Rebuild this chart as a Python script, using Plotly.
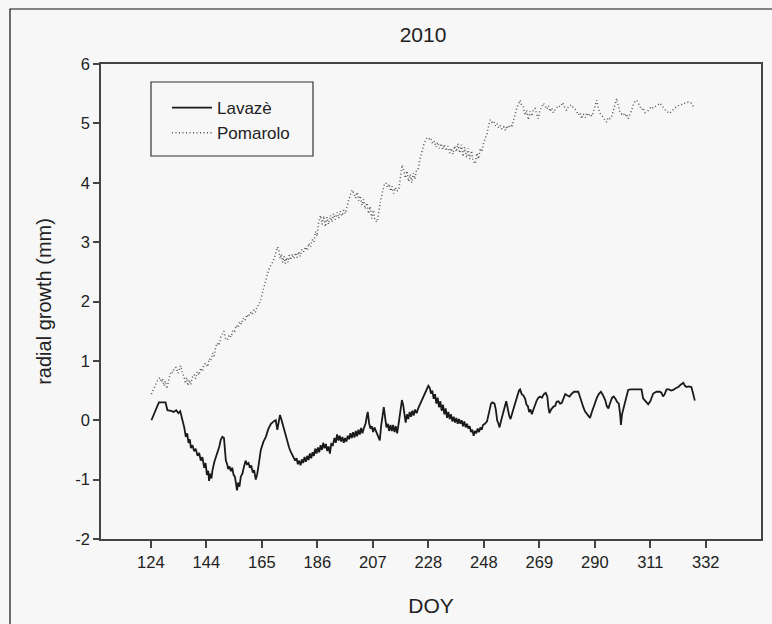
import plotly.graph_objects as go

# ---------------- data ----------------
x_tick_vals = [124, 144.8, 165.6, 186.4, 207.2, 228, 248.8, 269.6, 290.4, 311.2, 332]
x_tick_text = ["124", "144", "165", "186", "207", "228", "248", "269", "290", "311", "332"]
y_tick_vals = [-2, -1, 0, 1, 2, 3, 4, 5, 6]
y_tick_text = ["-2", "-1", "0", "1", "2", "3", "4", "5", "6"]

lavaze_doy = [
    124.2, 125.5, 127.0, 129.5, 130.2, 131.5, 132.5, 133.5, 134.3, 135.0, 135.9, 136.5, 137.1, 137.6,
    138.1, 138.6, 139.0, 139.6, 140.2, 140.8, 141.5, 142.1, 142.7, 143.3, 144.0, 144.5, 145.0, 145.5,
    145.8, 146.3, 146.7, 147.1, 147.8, 148.4, 148.9, 149.6, 150.2, 150.8, 151.4, 151.8, 152.1, 152.6,
    153.0, 153.5, 154.0, 154.5, 155.0, 155.5, 155.9, 156.3, 156.7, 157.2, 157.7, 158.3, 158.8, 159.5,
    160.0, 160.6, 161.1, 161.6, 162.2, 162.7, 163.3, 163.8, 164.3, 165.2, 166.2, 167.1, 168.0, 169.0,
    170.0, 170.8, 171.4, 172.0, 172.4, 173.0, 173.6, 174.3, 175.1, 175.8, 176.4, 177.0, 177.6, 178.1,
    178.6, 179.1, 179.6, 180.1, 180.6, 181.1, 181.6, 182.1, 182.6, 183.1, 183.6, 184.1, 184.6, 185.1,
    185.6, 186.1, 186.6, 187.1, 187.6, 188.1, 188.6, 189.1, 189.6, 190.1, 190.6, 191.1, 191.6, 192.2,
    192.8, 193.3, 193.8, 194.3, 194.8, 195.3, 195.8, 196.3, 196.8, 197.3, 197.8, 198.3, 198.8, 199.3,
    199.8, 200.3, 200.8, 201.3, 201.8, 202.3, 202.8, 203.3, 203.8, 204.5, 205.0, 205.3, 205.8, 206.3,
    206.8, 207.3, 207.8, 208.3, 208.8, 209.3, 209.8, 210.3, 210.8, 211.3, 211.8, 212.3, 212.8, 213.3,
    213.8, 214.3, 214.8, 215.3, 215.8, 216.3, 216.9, 217.5, 218.1, 218.6, 219.1, 219.5, 220.0, 220.5,
    221.0, 221.5, 222.0, 222.5, 223.0, 223.6, 224.2, 224.8, 225.6, 226.4, 227.2, 228.0, 228.5, 229.0,
    229.5, 230.0, 230.5, 231.0, 231.5, 232.0, 232.5, 233.0, 233.5, 234.0, 234.5, 235.0, 235.5, 236.0,
    236.5, 237.0, 237.5, 238.0, 238.5, 239.0, 239.5, 240.0, 240.5, 241.0, 241.5, 242.0, 242.5, 243.0,
    243.5, 244.0, 244.5, 245.0, 245.5, 246.0, 246.5, 247.0, 247.5, 248.0, 248.5, 249.2, 250.0, 250.8,
    251.5, 252.0, 252.8, 253.3, 253.8, 254.3, 254.7, 255.2, 255.9, 256.6, 257.2, 257.8, 258.3, 258.8,
    259.5, 260.1, 260.6, 261.3, 262.0, 262.4, 263.0, 263.6, 264.3, 264.8, 265.3, 265.8, 266.3, 266.8,
    267.4, 268.0, 268.7, 269.3, 269.9, 270.6, 271.3, 272.0, 272.6, 273.0, 273.4, 274.0, 274.9, 275.5,
    276.1, 276.8, 277.4, 278.0, 278.6, 279.3, 280.0, 280.9, 281.6, 282.6, 283.4, 284.2, 284.8, 285.5,
    286.1, 286.7, 287.3, 287.8, 288.6, 289.3, 290.0, 290.5, 291.2, 291.9, 292.7, 293.5, 294.3, 294.9,
    295.5, 296.2, 296.9, 297.5, 298.2, 298.7, 299.4, 299.9, 300.2, 300.6, 301.1, 301.8, 302.4, 302.9,
    303.8, 304.8, 305.8, 306.8, 307.9, 308.5, 309.2, 309.8, 310.4, 311.2, 312.3, 313.5, 314.8, 315.4,
    316.0, 316.6, 317.3, 318.2, 319.0, 319.8, 320.7, 321.7, 322.6, 323.6, 324.2, 324.8, 325.5, 326.6,
    327.2, 327.9,
]
lavaze_mm = [
    0.00, 0.15, 0.30, 0.30, 0.17, 0.16, 0.14, 0.17, 0.12, 0.15, 0.00, -0.12, -0.28, -0.22,
    -0.38, -0.32, -0.47, -0.42, -0.52, -0.48, -0.60, -0.55, -0.68, -0.62, -0.80, -0.72, -0.92, -0.85,
    -1.02, -0.90, -0.98, -0.84, -0.70, -0.62, -0.56, -0.45, -0.33, -0.28, -0.30, -0.50, -0.68, -0.74,
    -0.82, -0.78, -0.86, -0.80, -0.92, -0.95, -1.10, -1.18, -1.05, -1.12, -0.95, -0.90, -0.80, -0.68,
    -0.74, -0.72, -0.80, -0.76, -0.88, -0.84, -1.00, -0.92, -0.78, -0.50, -0.36, -0.28, -0.15, -0.06,
    -0.02, 0.00, -0.16, 0.00, 0.09, 0.00, -0.10, -0.25, -0.39, -0.46, -0.53, -0.58, -0.62, -0.68,
    -0.64, -0.74, -0.68, -0.76, -0.66, -0.72, -0.62, -0.70, -0.60, -0.67, -0.56, -0.64, -0.54, -0.60,
    -0.48, -0.56, -0.46, -0.54, -0.42, -0.50, -0.38, -0.47, -0.40, -0.52, -0.44, -0.56, -0.40, -0.42,
    -0.30, -0.38, -0.24, -0.34, -0.26, -0.36, -0.28, -0.38, -0.30, -0.36, -0.26, -0.32, -0.22, -0.30,
    -0.20, -0.29, -0.18, -0.27, -0.16, -0.24, -0.13, -0.22, -0.14, -0.05, 0.08, 0.14, -0.05, -0.14,
    -0.10, -0.20, -0.12, -0.18, -0.22, -0.30, -0.34, -0.10, 0.12, 0.22, 0.05, -0.12, -0.06, -0.18,
    -0.08, -0.18, -0.08, -0.20, -0.10, -0.22, -0.05, 0.20, 0.34, 0.25, 0.06, -0.04, 0.10, 0.02,
    0.14, 0.06, 0.16, 0.08, 0.18, 0.12, 0.20, 0.26, 0.35, 0.44, 0.52, 0.58, 0.55, 0.45,
    0.50, 0.36, 0.44, 0.28, 0.38, 0.22, 0.32, 0.16, 0.26, 0.10, 0.20, 0.04, 0.14, 0.02,
    0.10, -0.02, 0.06, -0.04, 0.04, -0.06, 0.02, -0.06, 0.00, -0.10, -0.02, -0.12, -0.06, -0.14,
    -0.10, -0.20, -0.16, -0.26, -0.18, -0.22, -0.14, -0.20, -0.12, -0.16, -0.08, -0.06, -0.02, 0.12,
    0.28, 0.30, 0.28, 0.18, 0.00, -0.06, -0.12, -0.02, 0.08, 0.22, 0.32, 0.18, 0.08, 0.02,
    0.14, 0.24, 0.30, 0.40, 0.50, 0.52, 0.44, 0.42, 0.36, 0.26, 0.24, 0.14, 0.18, 0.10,
    0.18, 0.26, 0.34, 0.38, 0.40, 0.38, 0.44, 0.46, 0.40, 0.22, 0.12, 0.18, 0.23, 0.24,
    0.31, 0.32, 0.28, 0.29, 0.36, 0.44, 0.42, 0.40, 0.44, 0.48, 0.48, 0.48, 0.40, 0.29,
    0.22, 0.15, 0.12, 0.08, 0.04, 0.14, 0.24, 0.29, 0.38, 0.44, 0.48, 0.42, 0.34, 0.24,
    0.20, 0.30, 0.38, 0.40, 0.36, 0.31, 0.28, 0.10, -0.08, 0.10, 0.20, 0.34, 0.46, 0.51,
    0.52, 0.52, 0.52, 0.52, 0.52, 0.37, 0.32, 0.30, 0.27, 0.32, 0.45, 0.48, 0.48, 0.46,
    0.40, 0.44, 0.52, 0.52, 0.50, 0.51, 0.54, 0.56, 0.60, 0.63, 0.58, 0.56, 0.57, 0.56,
    0.46, 0.33,
]

pomarolo_doy = [
    124.2, 125.0, 125.9, 126.6, 127.4, 127.9, 128.4, 128.9, 129.4, 130.0, 130.7, 131.5, 132.2, 132.8,
    133.4, 134.2, 134.7, 135.2, 135.8, 136.4, 136.9, 137.4, 137.9, 138.4, 138.9, 139.5, 140.2, 140.8,
    141.4, 142.0, 142.7, 143.3, 143.9, 144.6, 145.3, 145.9, 146.5, 147.1, 147.7, 148.3, 148.9, 149.5,
    150.2, 150.8, 151.4, 152.0, 152.7, 153.4, 154.1, 154.7, 155.4, 156.0, 156.7, 157.3, 157.9, 158.6,
    159.3, 160.0, 160.6, 161.3, 161.9, 162.6, 163.2, 163.9, 164.5, 165.2, 165.8, 166.5, 167.1, 167.7,
    168.3, 169.1, 169.9, 170.7, 171.4, 171.9, 172.4, 172.9, 173.4, 173.9, 174.4, 174.9, 175.4, 175.9,
    176.4, 177.0, 177.6, 178.2, 178.8, 179.4, 180.0, 180.6, 181.3, 182.0, 182.6, 183.2, 183.8, 184.5,
    185.1, 185.7, 186.3, 186.9, 187.6, 188.2, 188.8, 189.4, 190.0, 190.6, 191.3, 191.9, 192.5, 193.1,
    193.8, 194.4, 195.0, 195.7, 196.3, 196.9, 197.5, 198.1, 198.8, 199.5, 200.1, 200.7, 201.3, 201.9,
    202.5, 203.1, 203.7, 204.3, 205.0, 205.6, 206.2, 206.8, 207.4, 208.0, 208.8, 209.5, 210.2, 210.8,
    211.5, 212.1, 212.7, 213.3, 213.9, 214.4, 215.0, 215.6, 216.2, 216.9, 217.5, 218.2, 218.8, 219.4,
    220.0, 220.6, 221.2, 221.8, 222.4, 223.0, 223.6, 224.2, 224.9, 225.7, 226.4, 227.0, 227.6, 228.3,
    228.9, 229.6, 230.2, 230.9, 231.5, 232.1, 232.8, 233.4, 234.0, 234.7, 235.3, 236.0, 236.6, 237.2,
    237.9, 238.5, 239.1, 239.8, 240.4, 241.0, 241.6, 242.3, 242.9, 243.5, 244.2, 244.8, 245.6, 246.2,
    246.8, 247.5, 248.1, 248.7, 249.4, 250.0, 250.6, 251.2, 251.8, 252.5, 253.1, 253.7, 254.4, 255.0,
    255.6, 256.3, 256.9, 257.5, 258.1, 258.8, 259.4, 259.9, 260.5, 261.1, 261.7, 262.4, 263.0, 263.6,
    264.2, 264.8, 265.5, 266.1, 266.7, 267.4, 268.0, 268.6, 269.2, 269.8, 270.4, 271.1, 271.7, 272.4,
    273.0, 273.6, 274.2, 274.9, 275.5, 276.1, 276.8, 277.4, 278.0, 278.4, 279.0, 279.8, 280.5, 281.1,
    281.7, 282.4, 283.0, 283.6, 284.2, 284.9, 285.5, 286.1, 286.8, 287.4, 288.0, 288.7, 289.3, 289.9,
    290.5, 291.1, 291.7, 292.3, 292.9, 293.6, 294.2, 294.8, 295.4, 296.1, 296.7, 297.3, 297.9, 298.6,
    299.2, 299.8, 300.4, 301.0, 301.7, 302.3, 302.9, 303.5, 304.2, 304.8, 305.4, 306.1, 306.7, 307.4,
    308.0, 308.6, 309.2, 309.9, 310.5, 311.2, 311.8, 312.4, 313.0, 313.6, 314.3, 314.9, 315.5, 316.1,
    316.8, 317.4, 318.0, 318.5, 319.1, 319.8, 320.4, 321.2, 321.8, 322.4, 323.0, 323.5, 324.1, 324.8,
    325.4, 326.0, 326.6, 327.2, 327.7,
]
pomarolo_mm = [
    0.44, 0.52, 0.62, 0.68, 0.72, 0.64, 0.70, 0.58, 0.66, 0.53, 0.68, 0.82, 0.80, 0.88,
    0.89, 0.79, 0.86, 0.92, 0.80, 0.74, 0.62, 0.72, 0.58, 0.68, 0.60, 0.72, 0.77, 0.70,
    0.82, 0.76, 0.88, 0.82, 0.94, 0.96, 0.90, 1.04, 1.00, 1.13, 1.08, 1.24, 1.30, 1.26,
    1.40, 1.44, 1.50, 1.38, 1.35, 1.44, 1.40, 1.52, 1.50, 1.60, 1.56, 1.66, 1.62, 1.72,
    1.68, 1.78, 1.74, 1.82, 1.78, 1.86, 1.82, 1.92, 1.94, 2.04, 2.13, 2.26, 2.36, 2.46,
    2.55, 2.62, 2.69, 2.80, 2.92, 2.88, 2.72, 2.80, 2.66, 2.76, 2.64, 2.74, 2.66, 2.78,
    2.70, 2.80, 2.72, 2.82, 2.74, 2.84, 2.76, 2.88, 2.84, 2.92, 2.86, 2.98, 2.92, 3.04,
    3.00, 3.18, 3.10, 3.34, 3.45, 3.30, 3.44, 3.26, 3.42, 3.30, 3.45, 3.34, 3.48, 3.38,
    3.50, 3.40, 3.52, 3.44, 3.54, 3.48, 3.62, 3.70, 3.80, 3.88, 3.82, 3.74, 3.84, 3.70,
    3.78, 3.62, 3.72, 3.56, 3.66, 3.48, 3.60, 3.40, 3.54, 3.36, 3.34, 3.55, 3.72, 3.84,
    3.96, 4.00, 3.92, 3.98, 3.86, 3.94, 3.82, 3.92, 3.86, 3.88, 4.10, 4.30, 4.20, 4.08,
    4.20, 4.02, 4.14, 4.00, 4.16, 4.06, 4.22, 4.24, 4.40, 4.55, 4.66, 4.72, 4.76, 4.74,
    4.76, 4.66, 4.70, 4.60, 4.68, 4.58, 4.66, 4.56, 4.64, 4.54, 4.62, 4.50, 4.58, 4.48,
    4.62, 4.52, 4.66, 4.50, 4.64, 4.44, 4.60, 4.42, 4.58, 4.40, 4.54, 4.36, 4.32, 4.50,
    4.40, 4.58, 4.52, 4.67, 4.74, 4.83, 4.96, 5.06, 5.02, 5.04, 4.96, 5.00, 4.92, 4.96,
    4.90, 4.94, 4.88, 4.96, 4.92, 4.98, 4.96, 5.03, 5.14, 5.25, 5.32, 5.39, 5.30, 5.28,
    5.14, 5.22, 5.06, 5.20, 5.12, 5.24, 5.25, 5.16, 5.08, 5.22, 5.26, 5.34, 5.30, 5.24,
    5.30, 5.20, 5.26, 5.18, 5.23, 5.26, 5.30, 5.28, 5.32, 5.35, 5.28, 5.22, 5.28, 5.30,
    5.31, 5.26, 5.24, 5.20, 5.14, 5.18, 5.08, 5.16, 5.10, 5.18, 5.12, 5.16, 5.12, 5.20,
    5.28, 5.39, 5.26, 5.17, 5.14, 5.10, 5.06, 5.02, 5.10, 5.08, 5.11, 5.22, 5.34, 5.42,
    5.30, 5.20, 5.16, 5.18, 5.12, 5.16, 5.08, 5.14, 5.22, 5.31, 5.36, 5.39, 5.34, 5.30,
    5.23, 5.26, 5.18, 5.20, 5.22, 5.26, 5.24, 5.28, 5.28, 5.30, 5.32, 5.34, 5.30, 5.26,
    5.23, 5.20, 5.18, 5.17, 5.20, 5.24, 5.26, 5.28, 5.30, 5.32, 5.32, 5.34, 5.34, 5.34,
    5.36, 5.35, 5.34, 5.30, 5.25,
]

# ---------------- figure ----------------
W, H = 772, 624
L, R, T, B = 101, 11, 64, 85
BG = "#f7f7f7"
INK = "#222222"
FONT = "Liberation Sans, Arial, sans-serif"

fig = go.Figure()
fig.add_trace(go.Scatter(
    x=lavaze_doy, y=lavaze_mm, name="Lavazè", mode="lines",
    line=dict(color="#1a1a1a", width=1.8),
))
fig.add_trace(go.Scatter(
    x=pomarolo_doy, y=pomarolo_mm, name="Pomarolo", mode="lines",
    line=dict(color="#555555", width=1.5, dash="1px,2.5px"),
))

pw = W - L - R
ph = H - T - B


def px_x(p):
    return (p - L) / pw


def px_y(p):
    return (H - B - p) / ph


shapes = [
    # outer figure border
    dict(type="rect", xref="paper", yref="paper",
         x0=px_x(10), x1=px_x(790), y0=px_y(9), y1=px_y(640),
         line=dict(color="#111111", width=1.2), fillcolor="rgba(0,0,0,0)", layer="below"),
    # legend box
    dict(type="rect", xref="paper", yref="paper",
         x0=px_x(151), x1=px_x(313), y0=px_y(82), y1=px_y(156),
         line=dict(color="#333333", width=1.2), fillcolor="rgba(0,0,0,0)"),
]

fig.update_layout(
    width=W, height=H,
    margin=dict(l=L, r=R, t=T, b=B, autoexpand=False),
    paper_bgcolor=BG, plot_bgcolor=BG,
    font=dict(family=FONT, color=INK, size=16),
    title=dict(text="2010", x=423 / W, xanchor="center", y=1 - 35 / H, yanchor="middle",
               font=dict(size=21, color=INK)),
    showlegend=True,
    legend=dict(x=px_x(167), y=px_y(90), xanchor="left", yanchor="top",
                bgcolor="rgba(0,0,0,0)", borderwidth=0,
                font=dict(size=17, color=INK), tracegroupgap=0,
                itemwidth=40),
    shapes=shapes,
)
fig.update_xaxes(
    range=[105.3, 352.7], tickmode="array", tickvals=x_tick_vals, ticktext=x_tick_text,
    ticks="outside", ticklen=7, tickwidth=1.5, tickcolor="#444444",
    showline=True, linecolor="#444444", linewidth=1.6, mirror=True,
    showgrid=False, zeroline=False,
    tickfont=dict(size=16.5, color=INK),
    title=dict(text="DOY", font=dict(size=21, color=INK), standoff=29),
)
fig.update_yaxes(
    range=[-2, 6], tickmode="array", tickvals=y_tick_vals, ticktext=y_tick_text,
    ticks="outside", ticklen=6, tickwidth=1.5, tickcolor="#444444",
    showline=True, linecolor="#444444", linewidth=1.6, mirror=True,
    showgrid=False, zeroline=False,
    tickfont=dict(size=16.5, color=INK),
    title=dict(text="radial growth (mm)", font=dict(size=20, color=INK), standoff=18),
)

fig.write_html("out.html", config={"displayModeBar": False},
               post_script="document.body.style.margin='0px';")
